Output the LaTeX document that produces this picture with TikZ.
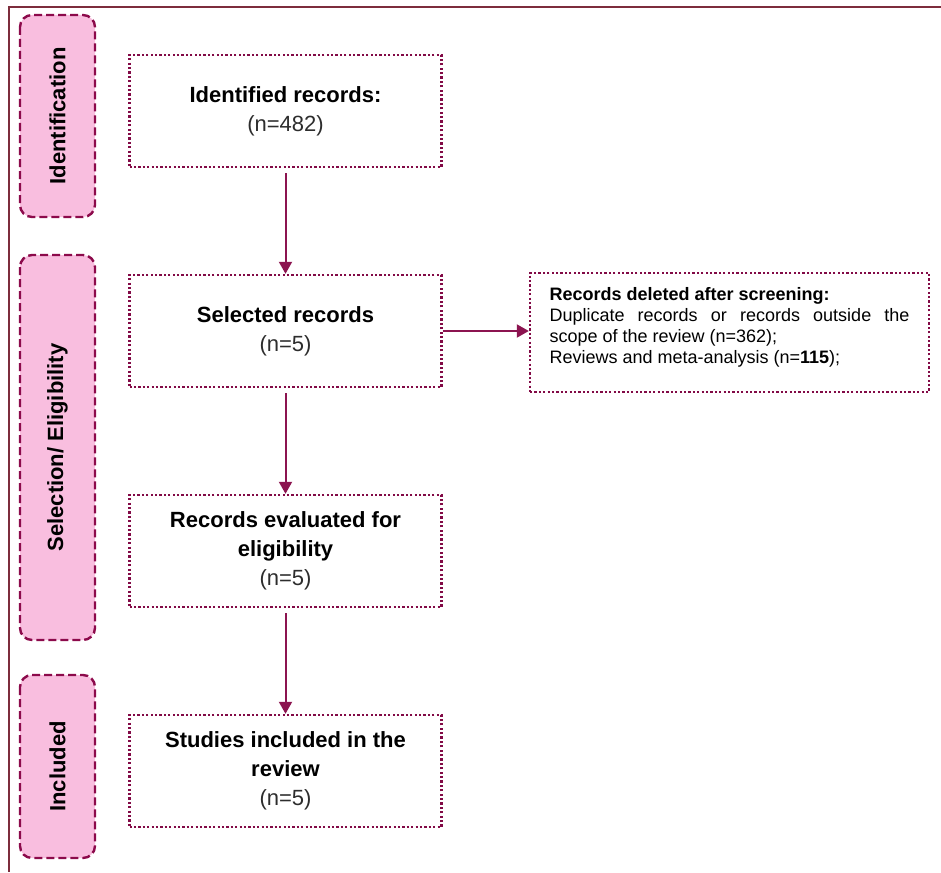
\documentclass[tikz,border=0pt]{standalone}
\usepackage{fontspec}
\setmainfont{Liberation Sans}
\usetikzlibrary{arrows.meta}
\definecolor{framecol}{RGB}{125,45,60}
\definecolor{boxcol}{RGB}{130,10,70}
\definecolor{phasecol}{RGB}{140,10,75}
\definecolor{phasefill}{RGB}{249,190,223}
\definecolor{flowcol}{RGB}{140,20,80}
\definecolor{countcol}{RGB}{45,45,45}
\begin{document}
\begin{tikzpicture}[x=.5pt,y=-.5pt,
    phase/.style={draw=phasecol,fill=phasefill,line width=1.2pt,
      dash pattern=on 4pt off 2pt,rounded corners=6pt,rotate=90,
      minimum height=37.5pt,inner sep=0pt,
      font=\fontsize{11}{13}\selectfont\bfseries},
    recbox/.style={draw=boxcol,line width=1.2pt,dash pattern=on 1.1pt off 1.1pt,
      minimum width=156pt,minimum height=56pt,inner sep=0pt,align=center,
      font=\fontsize{11}{14.5}\selectfont},
    flow/.style={draw=flowcol,line width=1pt,
      -{Triangle[length=6pt,width=6.5pt]}}]
\useasboundingbox (0,0) rectangle (941,872);
\draw[framecol,line width=1pt] (941,7) -- (9,7) -- (9,872);

\node [phase,minimum width=101pt]   (phaseid)  at ( 57.5,116  ) {Identification};
\node [phase,minimum width=192.5pt] (phasesel) at ( 57.5,447.5) {Selection/ Eligibility};
\node [phase,minimum width=91.5pt]  (phaseinc) at ( 57.5,766.5) {Included};

\node [recbox] (ident) at (285.5,111) {\textbf{Identified records:}\\\color{countcol}(n=482)};
\node [recbox] (select) at (285.5,331) {\textbf{Selected records}\\\color{countcol}(n=5)};
\node [recbox] (elig) at (285.5,551) {\textbf{Records evaluated for}\\\textbf{eligibility}\\\color{countcol}(n=5)};
\node [recbox] (incl) at (285.5,771) {\textbf{Studies included in the}\\\textbf{review}\\\color{countcol}(n=5)};

\node [draw=boxcol,line width=1.2pt,dash pattern=on 1.1pt off 1.1pt,
       text width=180pt,inner xsep=9.75pt,minimum height=59.5pt,align=justify,
       font=\fontsize{9}{10.5}\selectfont]
      (excl) at (729.5,332.5)
      {\textbf{Records deleted after screening:}\\
       Duplicate records or records outside the\linebreak
       scope of the review (n=362);\\
       Reviews and meta-analysis (n=\textbf{115});\\[-3pt]};

\draw[flow,shorten <=2.5pt] (ident)  -- (select);
\draw[flow,shorten <=2.5pt] (select) -- (elig);
\draw[flow,shorten <=2.5pt] (elig)   -- (incl);
\draw[flow] (select.east) -- (select.east -| excl.west);
\end{tikzpicture}
\end{document}
